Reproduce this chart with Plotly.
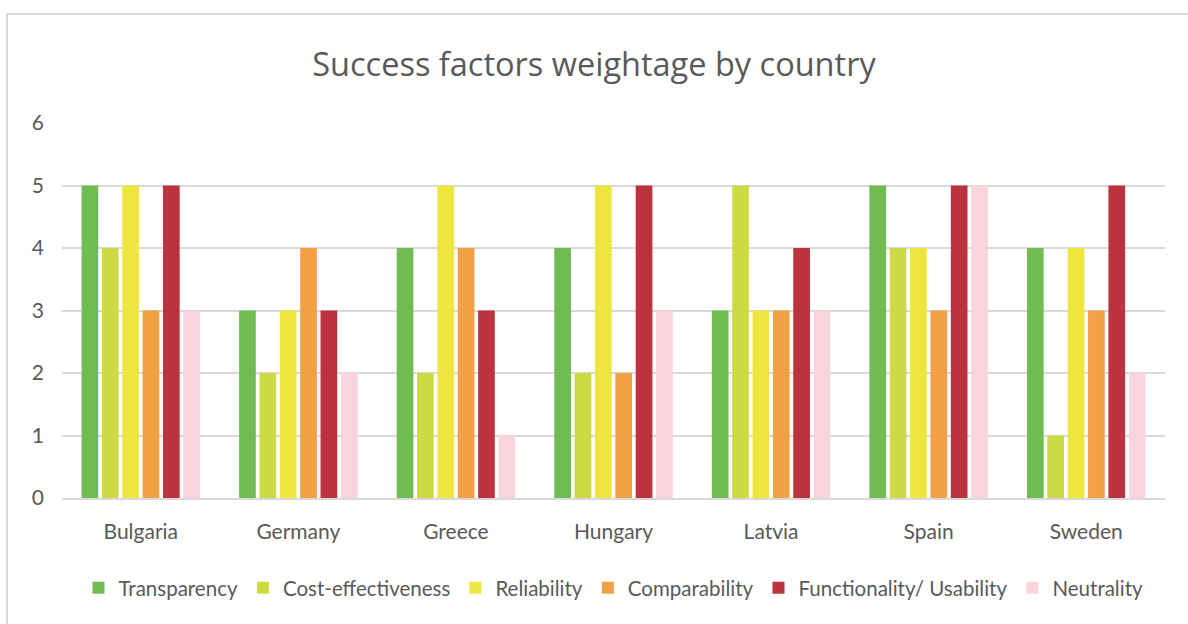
import plotly.graph_objects as go

countries = ["Bulgaria", "Germany", "Greece", "Hungary", "Latvia", "Spain", "Sweden"]
transparency = [5, 3, 4, 4, 3, 5, 4]
cost_effectiveness = [4, 2, 2, 2, 5, 4, 1]
reliability = [5, 3, 5, 5, 3, 4, 4]
comparability = [3, 4, 4, 2, 3, 3, 3]
functionality = [5, 3, 3, 5, 4, 5, 5]
neutrality = [3, 2, 1, 3, 3, 5, 2]

series_names = ["Transparency", "Cost-effectiveness", "Reliability", "Comparability",
                "Functionality/ Usability", "Neutrality"]
series_values = [transparency, cost_effectiveness, reliability, comparability, functionality, neutrality]
colors = ["#71BB55", "#CEDA44", "#EEE63E", "#F0A045", "#BB333E", "#F8D5DA"]

W, H = 1188, 624
L, R, T, B = 62, 23, 123, 126

fig = go.Figure()
for name, vals, col in zip(series_names, series_values, colors):
    fig.add_trace(go.Bar(x=countries, y=vals, name=name, marker_color=col,
                         marker_line_width=0))

pw = W - L - R
ph = H - T - B

fig.update_layout(
    width=W, height=H,
    margin=dict(l=L, r=R, t=T, b=B),
    paper_bgcolor="white", plot_bgcolor="white",
    barmode="group", bargap=0.225, bargroupgap=0.18,
    font=dict(family="Lato, Open Sans, sans-serif", color="#595959", size=21),
    title=dict(text="Success factors weightage by country", x=0.5, xanchor="center",
               y=1 - 65 / H, yanchor="middle",
               font=dict(size=32.5, color="#595959", family="Open Sans, sans-serif")),
    legend=dict(orientation="h", x=0.5, xanchor="center", y=(H - 588 - B) / ph,
                yanchor="middle", font=dict(size=20.5, color="#595959"),
                itemwidth=30, traceorder="normal"),
    xaxis=dict(showgrid=False, ticks="", showline=True, linecolor="#D9D9D9",
               linewidth=1.5, tickfont=dict(size=21), automargin=False,
               ticklabelstandoff=14),
    yaxis=dict(range=[0, 6], dtick=1, showgrid=True, gridcolor="#D9D9D9", gridwidth=1.5,
               zeroline=False, ticks="", tickfont=dict(size=21), automargin=False,
               ticklabelstandoff=17),
    shapes=[dict(type="rect", xref="paper", yref="paper",
                 x0=(7 - L) / pw, x1=(W + 10 - L) / pw,
                 y0=-(H + 10 - T - ph) / ph, y1=1 + (T - 14) / ph,
                 line=dict(color="#D9D9D9", width=2), fillcolor="rgba(0,0,0,0)",
                 layer="below")],
)

fig.write_html("out.html")
